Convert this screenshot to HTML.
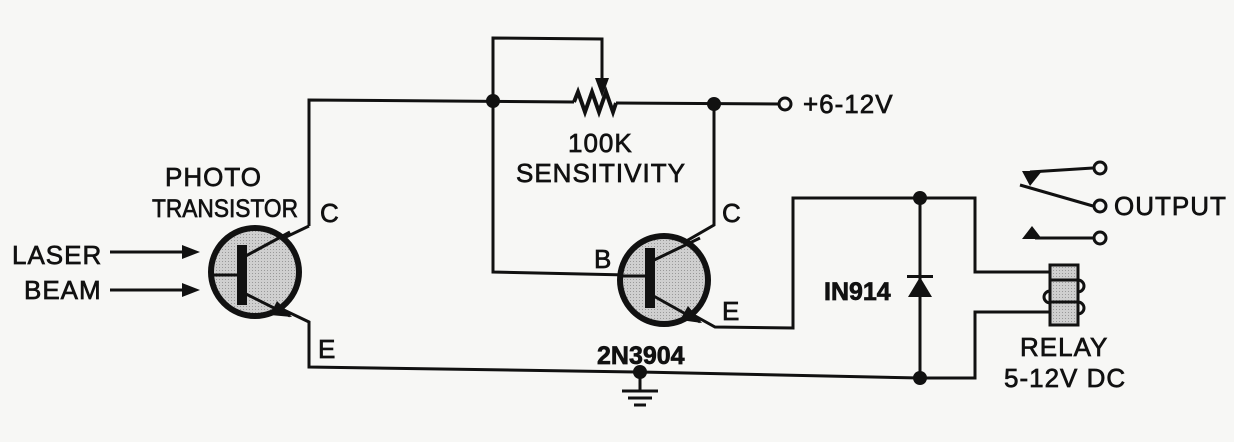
<!DOCTYPE html>
<html><head><meta charset="utf-8"><style>
html,body{margin:0;padding:0;background:#f7f7f5;}
svg{display:block}
text{font-family:"Liberation Sans",sans-serif;font-size:26px;letter-spacing:1px;fill:#111;stroke:#111;stroke-width:0.7px;}
text.b{font-size:25px;letter-spacing:0;font-weight:bold;}
</style></head><body>
<svg width="1234" height="442" viewBox="0 0 1234 442" xmlns="http://www.w3.org/2000/svg">
<rect width="1234" height="442" fill="#f7f7f5"/>
<defs><pattern id="g" width="3" height="3" patternUnits="userSpaceOnUse"><rect width="3" height="3" fill="#cfcfcf"/><rect width="1" height="1" fill="#999"/></pattern></defs>
<g stroke="#111" stroke-width="3" fill="none" stroke-linejoin="miter">
<polyline points="309,226 309,100 574,102"/>
<polyline points="616,103 780,104"/>
<polyline points="574,102 578,92 585,112 592,92 599,112 606,92 613,112 616,103" stroke-width="4"/>
<polyline points="493,101 493,38 602,39 602,80"/>
<line x1="309" y1="226" x2="242" y2="258"/>
<polyline points="242,290 309,322 309,367 640,372 920,378 975,378 975,312 1050,312"/>
<polyline points="493,101 493,272 628,275"/>
<polyline points="714,104 714,225 650,262"/>
<polyline points="652,292 715,327 793,328 793,198 975,198 975,272 1050,272"/>
<line x1="920" y1="198" x2="920" y2="378"/>
<line x1="640" y1="372" x2="640" y2="390"/>
<line x1="622" y1="391" x2="658" y2="391"/>
<line x1="628" y1="398" x2="652" y2="398"/>
<line x1="634" y1="405" x2="646" y2="405"/>
<line x1="1030" y1="172" x2="1093" y2="168"/>
<line x1="1020" y1="185" x2="1093" y2="206"/>
<line x1="1035" y1="238" x2="1093" y2="238"/>
<line x1="110" y1="252" x2="185" y2="252"/>
<line x1="110" y1="290" x2="185" y2="290"/>
</g>
<g fill="#111">
<polygon points="200,252 182,245 182,259"/>
<polygon points="200,290 182,283 182,297"/>
<polygon points="602,97 595,78 609,78"/>
<circle cx="493" cy="101" r="7"/><circle cx="714" cy="104" r="7"/>
<circle cx="640" cy="372" r="7"/><circle cx="920" cy="198" r="7"/><circle cx="920" cy="378" r="7"/>
<polygon points="1022,171 1042,171 1030,186"/>
<polygon points="1022,239 1042,239 1032,226"/>
<polygon points="908,297 932,297 920,277"/>
<rect x="907" y="275" width="26" height="3"/>
</g>
<circle cx="255" cy="272" r="44" fill="url(#g)" stroke="#111" stroke-width="6"/>
<rect x="237" y="245" width="10" height="60" fill="#111"/>
<line x1="242" y1="258" x2="290" y2="232" stroke="#111" stroke-width="3"/>
<line x1="242" y1="292" x2="290" y2="316" stroke="#111" stroke-width="3"/>
<line x1="212" y1="275" x2="240" y2="275" stroke="#111" stroke-width="3"/>
<polygon points="292,317 270,315 277,301" fill="#111"/>
<circle cx="664" cy="280" r="44" fill="url(#g)" stroke="#111" stroke-width="6"/>
<rect x="645" y="248" width="10" height="60" fill="#111"/>
<line x1="650" y1="262" x2="700" y2="238" stroke="#111" stroke-width="3"/>
<line x1="650" y1="294" x2="700" y2="322" stroke="#111" stroke-width="3"/>
<line x1="622" y1="276" x2="648" y2="276" stroke="#111" stroke-width="3"/>
<polygon points="702,323 680,320 688,306" fill="#111"/>
<g fill="#f7f7f5" stroke="#111" stroke-width="3">
<circle cx="785" cy="104" r="6"/>
<circle cx="1100" cy="168" r="6"/><circle cx="1100" cy="206" r="6"/><circle cx="1100" cy="238" r="6"/>
</g>
<g stroke="#111" stroke-width="3">
<rect x="1050" y="265" width="28" height="60" fill="url(#g)"/>
<line x1="1050" y1="280" x2="1078" y2="280"/>
<line x1="1050" y1="302" x2="1078" y2="302"/>
<path d="M1078,280 a6,6 0 0 1 0,12 M1078,302 a6,6 0 0 1 0,12 M1050,291 a6,6 0 0 0 0,12" fill="none"/>
</g>
<text x="12" y="264">LASER</text>
<text x="24" y="299">BEAM</text>
<text x="165" y="186">PHOTO</text>
<text x="152" y="217" style="letter-spacing:0;font-size:25px" textLength="146" lengthAdjust="spacingAndGlyphs">TRANSISTOR</text>
<text x="320" y="222">C</text>
<text x="318" y="358">E</text>
<text x="568" y="152">100K</text>
<text x="516" y="182">SENSITIVITY</text>
<text x="803" y="113">+6-12V</text>
<text x="594" y="268">B</text>
<text x="722" y="222">C</text>
<text x="722" y="320">E</text>
<text class="b" x="597" y="364">2N3904</text>
<text class="b" x="824" y="300">IN914</text>
<text x="1114" y="215">OUTPUT</text>
<text x="1020" y="356">RELAY</text>
<text x="1004" y="387">5-12V DC</text>
</svg>
</body></html>
